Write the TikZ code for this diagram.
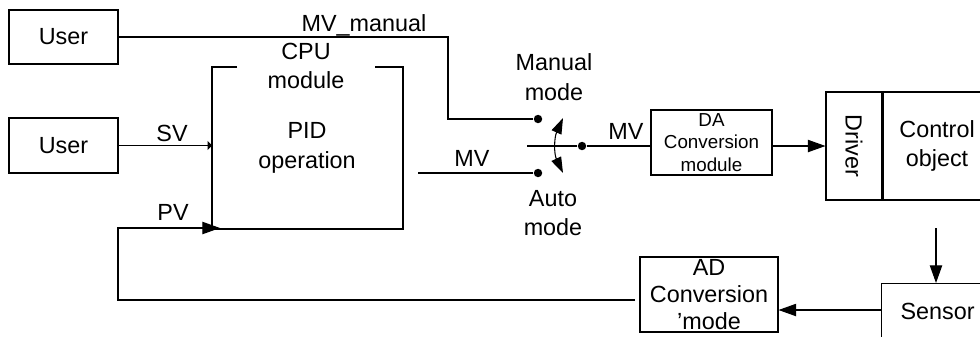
\documentclass[tikz,border=0pt]{standalone}
\usepackage{fontspec}
\setmainfont{Liberation Sans}
\usetikzlibrary{arrows.meta}

\begin{document}
\begin{tikzpicture}[x=0.02cm, y=-0.02cm, line width=0.6pt,
    box/.style={draw, inner sep=0pt, align=center, font=\fontsize{13.3}{17}\selectfont},
    lbl/.style={inner sep=0pt, align=center, font=\fontsize{13.3}{17}\selectfont},
    contact/.style={circle, fill, inner sep=0pt, minimum size=4.8pt},
    sig/.style={-{Triangle[length=10pt,width=7pt]}},
    swing/.style={{Triangle[length=9pt,width=6pt]}-{Triangle[length=9pt,width=6pt]}}]
    \useasboundingbox (0,0) rectangle (980,336);

    % Users
    \node[box, minimum width=2.18cm, minimum height=1.08cm] (user1) at (63.5,37) {User};
    \node[box, minimum width=2.18cm, minimum height=1.1cm] (user2) at (63.5,145.5) {User};

    % CPU module (open top edge)
    \coordinate (cpuNW) at (212,67);
    \coordinate (cpuSE) at (403,229);
    \draw (237,67) -- (cpuNW) |- (cpuSE) |- (375,67);
    \node[lbl] (cpu) at (306,66) {CPU\\module};
    \node[lbl] (pid) at (307,148) {PID\\operation};

    % Switch contacts
    \node[contact] (manual) at (538,119) {};
    \node[contact] (auto) at (538,173) {};
    \node[contact] (common) at (582,146) {};
    \node[lbl] (manlbl) at (554,77) {Manual\\mode};
    \node[lbl] (autolbl) at (553,213) {Auto\\mode};
    \draw[swing] (563,118) .. controls (554,138) and (554,154) .. (563,173);

    % DA / driver / plant
    \node[box, minimum width=2.42cm, minimum height=1.3cm,
          font=\fontsize{10.7}{12.8}\selectfont] (da) at (711.5,142.5) {DA\\Conversion\\module};
    \node[box, minimum width=1.12cm, minimum height=2.16cm] (driver) at (854,146) {};
    \node[lbl, rotate=-90] (drvtxt) at (driver.center) {Driver};
    \node[box, anchor=north west, minimum width=2.16cm, minimum height=2.16cm] (plant) at (driver.north east) {Control\\object};

    % Feedback path
    \node[box, anchor=north west, minimum width=2.24cm, minimum height=1.12cm] (sensor) at (881,283) {Sensor};
    \node[box, minimum width=2.76cm, minimum height=1.5cm,
          font=\fontsize{13.3}{15.6}\selectfont] (ad) at (709,294.5) {AD\\Conversion\\’mode};

    % Signal lines
    \coordinate (svin) at (212,145.5);
    \draw[-{Triangle[length=2.5pt,width=5pt]}] (user2.east) -- (svin);
    \node[lbl] (sv) at (172,133) {SV};

    \draw (user1.east) -| (448,119) -- (manual);
    \node[lbl] (mvman) at (364,25) {MV\_manual};

    \coordinate (mvout) at (418,173);
    \draw (mvout) -- (auto);
    \node[lbl] (mv1) at (472,158) {MV};

    \coordinate (swin) at (527,146);
    \draw (swin) -- (common) -- (da.west |- common);
    \node[lbl] (mv2) at (626,131) {MV};

    \draw[sig] (da.east |- driver.west) -- (driver.west);

    \coordinate (sensin) at (936,228);
    \draw[sig] (sensin) -- (sensin |- sensor.north);
    \draw[sig] (sensor.west |- 0,310) -- (ad.east |- 0,310);

    \coordinate (fbstart) at (635,300);
    \coordinate (pvin) at (220,228);
    \draw[sig] (fbstart) -| (118,228) -- (pvin);
    \node[lbl] (pv) at (173,212) {PV};

\end{tikzpicture}
\end{document}
